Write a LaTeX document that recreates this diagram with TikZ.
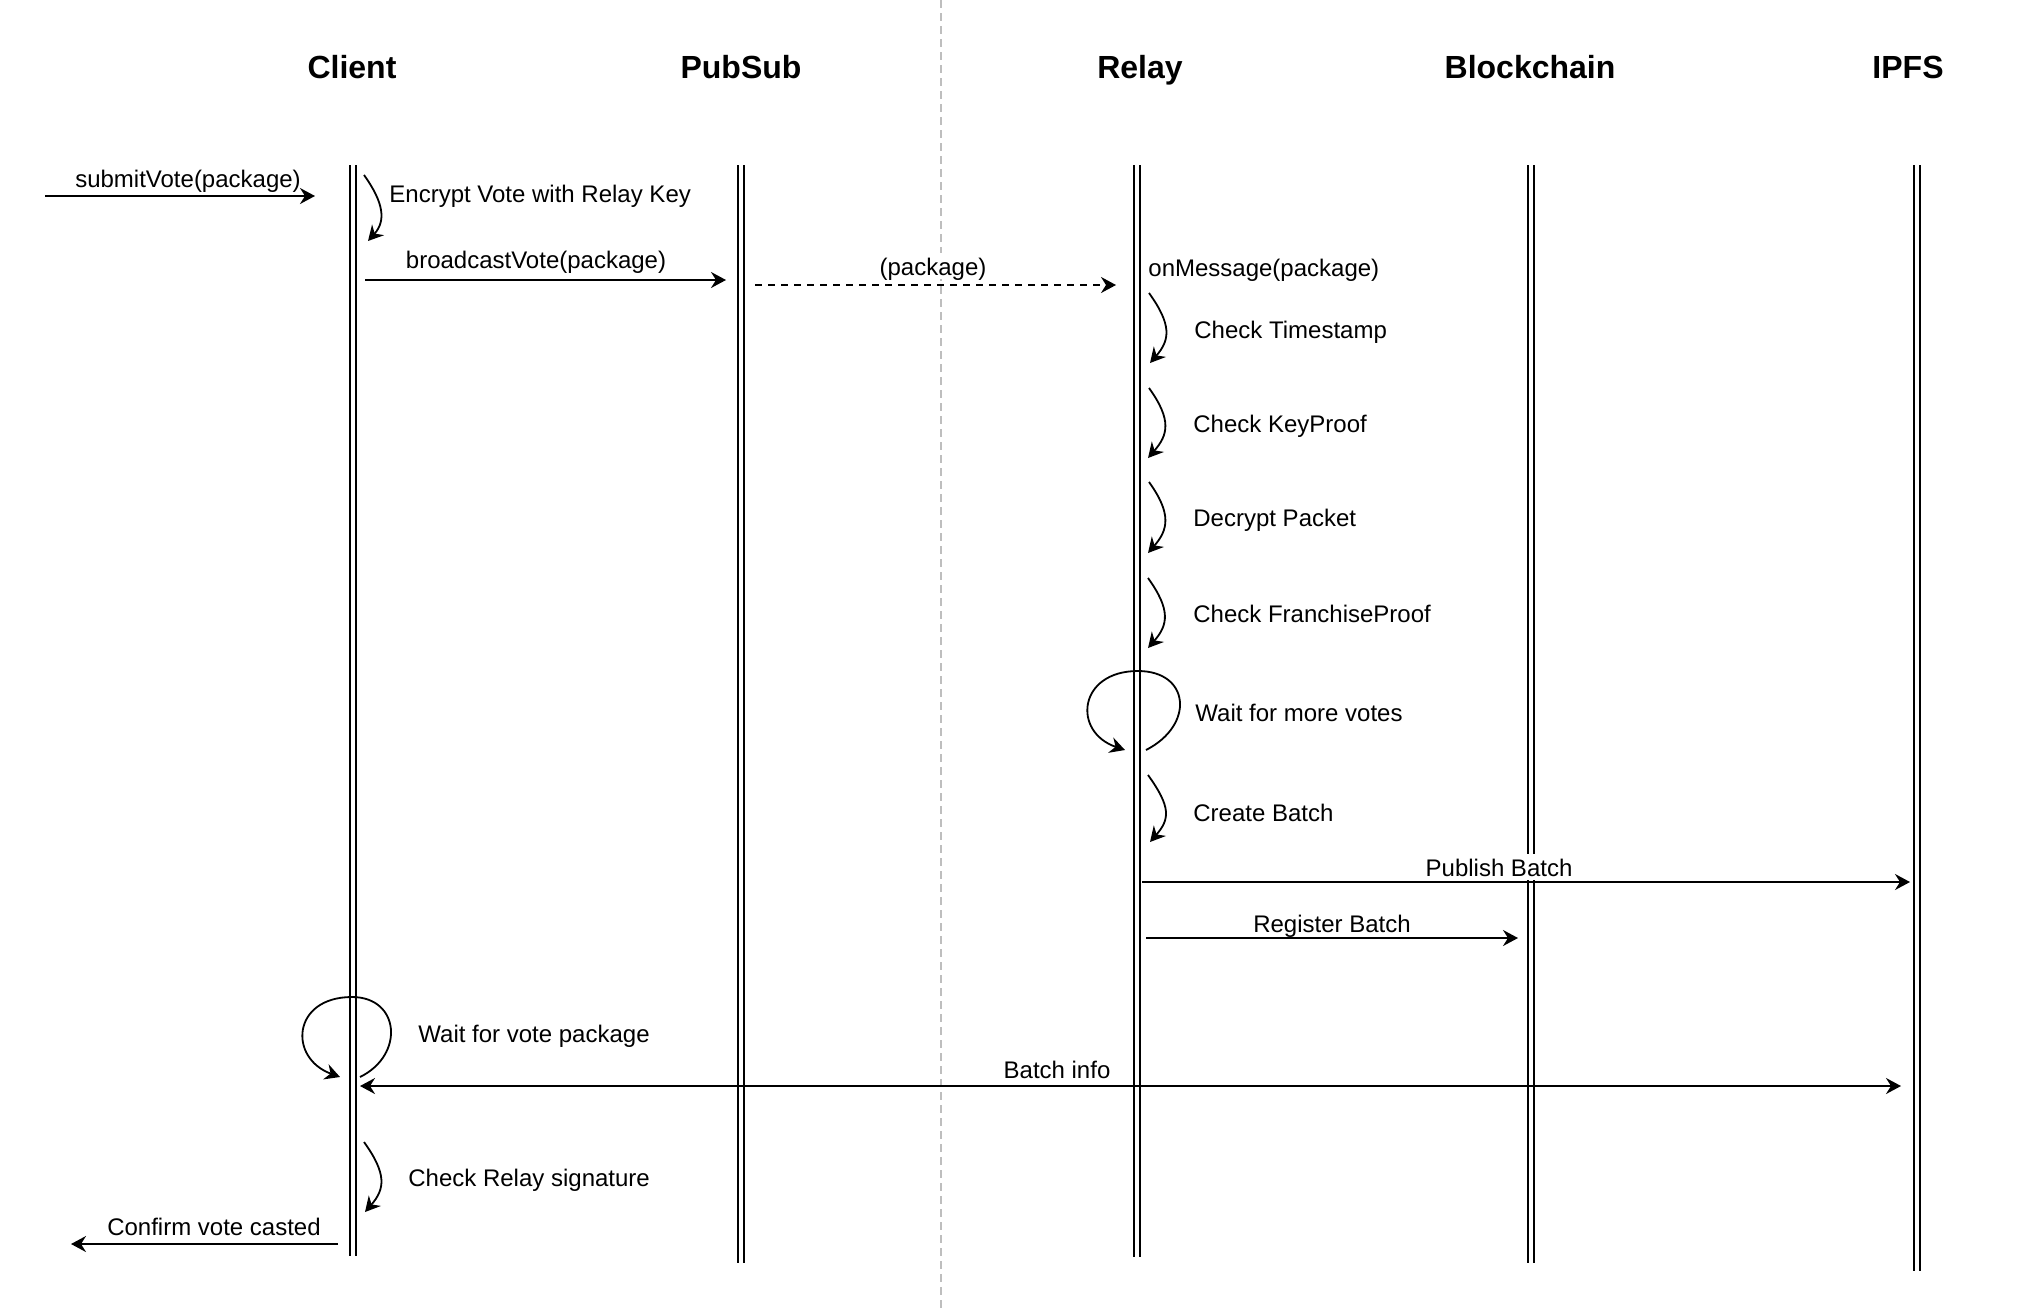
\documentclass[tikz,border=0pt]{standalone}
\usepackage{fontspec}
\setmainfont{Liberation Sans}
\usetikzlibrary{arrows.meta}
\begin{document}
\begin{tikzpicture}[x=0.5pt,y=-0.5pt,
  lbl/.style={font=\fontsize{12}{14}\selectfont, inner sep=0pt, text height=9pt, text depth=0pt},
  wlbl/.style={lbl, fill=white, inner xsep=1pt, inner ysep=2pt},
  hdr/.style={font=\bfseries\fontsize{16}{19}\selectfont, inner sep=0pt, text height=11.5pt, text depth=0pt},
  life/.style={line width=0.75pt, double distance=2.4pt},
  msg/.style={line width=1pt, -{Stealth[length=7.5pt,width=8pt,inset=2.5pt]}},
  dmsg/.style={msg, dash pattern=on 3.5pt off 3pt},
  bimsg/.style={line width=1pt, {Stealth[length=7.5pt,width=8pt,inset=2.5pt]}-{Stealth[length=7.5pt,width=8pt,inset=2.5pt]}},
  self/.style={line width=0.9pt, -{Stealth[length=7.5pt,width=8pt,inset=2.5pt]}},
  divider/.style={line width=1pt, draw={rgb,255:red,190;green,190;blue,190}, dash pattern=on 4pt off 2.5pt}]
\useasboundingbox (0,0) rectangle (2032,1312);
\fill[white] (0,0) rectangle (2032,1312);

% divider
\coordinate (dvT) at (941,0);
\coordinate (dvB) at (941,1312);
\draw[divider] (dvT) -- (dvB);

% headers
\node[hdr] (hClient) at (352,67) {Client};
\node[hdr] (hPubSub) at (741,67) {PubSub};
\node[hdr] (hRelay) at (1140,67) {Relay};
\node[hdr] (hChain) at (1530,67) {Blockchain};
\node[hdr] (hIPFS) at (1908,67) {IPFS};

% lifelines
\coordinate (cT) at (353,165);  \coordinate (cB) at (353,1256);
\coordinate (pT) at (741,165);  \coordinate (pB) at (741,1263);
\coordinate (rT) at (1137,165); \coordinate (rB) at (1137,1257);
\coordinate (bT) at (1531,165); \coordinate (bB) at (1531,1263);
\coordinate (iT) at (1917,165); \coordinate (iB) at (1917,1271);
\draw[life] (cT) -- (cB);
\draw[life] (pT) -- (pB);
\draw[life] (rT) -- (rB);
\draw[life] (bT) -- (bB);
\draw[life] (iT) -- (iB);

% submitVote
\coordinate (s1) at (45,196); \coordinate (s2) at (315,196);
\draw[msg] (s1) -- (s2);
\node[lbl] (lSubmit) at (188,178) {submitVote(package)};

% encrypt
\coordinate (e1) at (364,175); \coordinate (e2) at (368,241);
\draw[self] (e1) .. controls +(20,28) and +(18,-20) .. (e2);
\node[lbl,anchor=west] (lEnc) at (389,193) {Encrypt Vote with Relay Key};

% broadcast
\coordinate (b1) at (365,280); \coordinate (b2) at (726,280);
\draw[msg] (b1) -- (b2);
\node[lbl] (lBroad) at (536,259) {broadcastVote(package)};

% package dashed
\coordinate (d1) at (755,285); \coordinate (d2) at (1116,285);
\draw[dmsg] (d1) -- (d2);
\node[wlbl] (lPack) at (933,266) {(package)};

\node[lbl,anchor=west] (lOnMsg) at (1148,267) {onMessage(package)};

% relay checks
\coordinate (t1) at (1149,293); \coordinate (t2) at (1150,363);
\draw[self] (t1) .. controls +(23,32) and +(20,-23) .. (t2);
\node[lbl,anchor=west] (lTime) at (1194,329) {Check Timestamp};

\coordinate (k1) at (1149,388); \coordinate (k2) at (1148,458);
\draw[self] (k1) .. controls +(23,32) and +(20,-23) .. (k2);
\node[lbl,anchor=west] (lKey) at (1193,423) {Check KeyProof};

\coordinate (x1) at (1149,482); \coordinate (x2) at (1148,553);
\draw[self] (x1) .. controls +(23,32) and +(20,-23) .. (x2);
\node[lbl,anchor=west] (lDec) at (1193,517) {Decrypt Packet};

\coordinate (f1) at (1148,578); \coordinate (f2) at (1148,648);
\draw[self] (f1) .. controls +(23,32) and +(20,-23) .. (f2);
\node[lbl,anchor=west] (lFr) at (1193,613) {Check FranchiseProof};

% wait loop relay
\coordinate (w1) at (1146,750); \coordinate (w2) at (1125,750);
\draw[self] (w1) .. controls (1195,725) and (1190,671) .. (1138,671)
                 .. controls (1078,671) and (1072,732) .. (w2);
\node[lbl,anchor=west] (lWait) at (1195,712) {Wait for more votes};

% create batch
\coordinate (cb1) at (1148,775); \coordinate (cb2) at (1150,842);
\draw[self] (cb1) .. controls +(23,32) and +(20,-23) .. (cb2);
\node[lbl,anchor=west] (lCreate) at (1193,812) {Create Batch};

% publish
\coordinate (pu1) at (1142,882); \coordinate (pu2) at (1910,882);
\draw[msg] (pu1) -- (pu2);
\node[wlbl] (lPub) at (1499,867) {Publish Batch};

% register
\coordinate (rg1) at (1146,938); \coordinate (rg2) at (1518,938);
\draw[msg] (rg1) -- (rg2);
\node[lbl] (lReg) at (1332,923) {Register Batch};

% client wait loop
\coordinate (cw1) at (360,1077); \coordinate (cw2) at (340,1077);
\draw[self] (cw1) .. controls (405,1055) and (400,997) .. (352,997)
                  .. controls (292,997) and (288,1058) .. (cw2);
\node[lbl,anchor=west] (lWaitV) at (418,1033) {Wait for vote package};

% batch info
\coordinate (bi1) at (360,1086); \coordinate (bi2) at (1901,1086);
\draw[bimsg] (bi1) -- (bi2);
\node[lbl] (lBatch) at (1057,1069) {Batch info};

% check relay signature
\coordinate (cs1) at (364,1142); \coordinate (cs2) at (365,1212);
\draw[self] (cs1) .. controls +(23,32) and +(20,-23) .. (cs2);
\node[lbl,anchor=west] (lSig) at (408,1177) {Check Relay signature};

% confirm
\coordinate (cf1) at (338,1244); \coordinate (cf2) at (71,1244);
\draw[msg] (cf1) -- (cf2);
\node[lbl] (lConf) at (214,1226) {Confirm vote casted};
\end{tikzpicture}
\end{document}
